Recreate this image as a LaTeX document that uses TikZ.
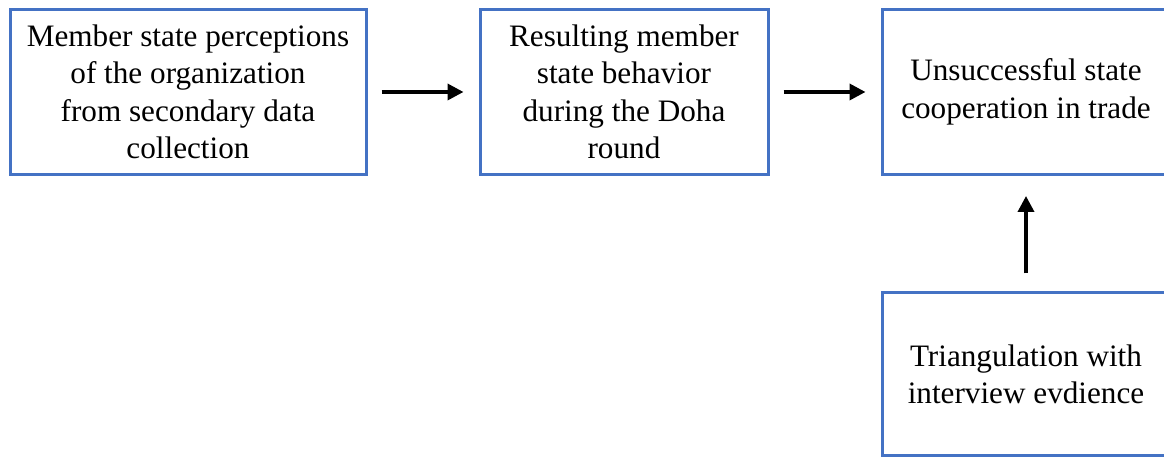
\documentclass[tikz,border=0pt]{standalone}
\usepackage{fontspec}
\setmainfont{Liberation Serif}
\usetikzlibrary{arrows.meta,positioning}
\definecolor{boxblue}{RGB}{68,114,196}

\begin{document}
\begin{tikzpicture}[x=0.5pt,y=-0.5pt,
    stagebox/.style={draw=boxblue,line width=1.5pt,align=center,inner sep=0pt,
        font=\fontsize{15.6}{18.7}\selectfont},
    flow/.style={-{Triangle[length=8pt,width=8pt]},line width=1.8pt}]
    \clip (0,0) rectangle (1164,458);
    \node[stagebox,minimum width=178pt,minimum height=82.5pt] (perc) at (188,92)
        {Member state perceptions\\of the organization\\from secondary data\\collection};
    \node[stagebox,minimum width=144pt,minimum height=82.5pt] (behav) at (624,92)
        {Resulting member\\state behavior\\during the Doha\\round};
    \node[stagebox,minimum width=144pt,minimum height=82.5pt] (coop) at (1026,92)
        {Unsuccessful state\\cooperation in trade};
    \node[stagebox,minimum width=144pt,minimum height=81.5pt] (triang) at (1026,374.5)
        {Triangulation with\\interview evdience};
    \draw[flow,shorten <=7pt,shorten >=7.5pt] (perc) -- (behav);
    \draw[flow,shorten <=7pt,shorten >=7.5pt] (behav) -- (coop);
    \draw[flow,shorten <=9pt,shorten >=10pt] (triang) -- (coop);
\end{tikzpicture}
\end{document}
